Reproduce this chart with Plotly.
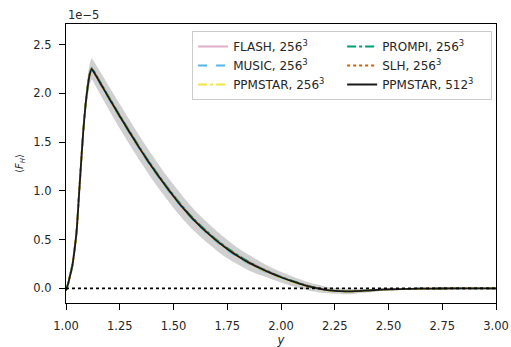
import plotly.graph_objects as go

# y coordinate
y_coord = [1.00, 1.01, 1.02, 1.03, 1.04, 1.05, 1.06, 1.07, 1.08, 1.09, 1.10, 1.11, 1.12,
           1.13, 1.15, 1.175, 1.20, 1.25, 1.30, 1.35, 1.40, 1.45, 1.50, 1.55, 1.60, 1.65,
           1.70, 1.75, 1.80, 1.85, 1.90, 1.95, 2.00, 2.05, 2.10, 2.15, 2.20, 2.25, 2.30,
           2.35, 2.40, 2.45, 2.50, 2.60, 2.70, 2.80, 2.90, 3.00]

# <F_H> in units of 1e-5
ppmstar512 = [-0.02, 0.05, 0.14, 0.24, 0.40, 0.60, 0.94, 1.28, 1.60, 1.86, 2.05, 2.19, 2.25,
              2.215, 2.14, 2.045, 1.95, 1.765, 1.585, 1.41, 1.245, 1.09, 0.945, 0.81, 0.69, 0.585,
              0.49, 0.405, 0.33, 0.265, 0.21, 0.16, 0.115, 0.075, 0.04, 0.01, -0.012, -0.025, -0.03,
              -0.028, -0.022, -0.015, -0.01, -0.004, -0.001, 0.0, 0.0, 0.0]
flash256 = [-0.02, 0.05, 0.15, 0.25, 0.41, 0.61, 0.95, 1.29, 1.61, 1.87, 2.06, 2.20, 2.26,
            2.225, 2.15, 2.055, 1.96, 1.775, 1.595, 1.42, 1.255, 1.10, 0.955, 0.82, 0.70, 0.595,
            0.50, 0.415, 0.34, 0.275, 0.22, 0.17, 0.12, 0.08, 0.045, 0.015, -0.01, -0.022, -0.028,
            -0.027, -0.021, -0.014, -0.009, -0.004, -0.001, 0.0, 0.0, 0.0]
music256 = [-0.02, 0.04, 0.13, 0.23, 0.39, 0.59, 0.93, 1.27, 1.59, 1.85, 2.04, 2.18, 2.24,
            2.205, 2.13, 2.035, 1.94, 1.755, 1.575, 1.40, 1.235, 1.08, 0.935, 0.80, 0.68, 0.575,
            0.48, 0.395, 0.32, 0.255, 0.20, 0.15, 0.11, 0.07, 0.035, 0.007, -0.014, -0.027, -0.031,
            -0.029, -0.023, -0.016, -0.01, -0.005, -0.001, 0.0, 0.0, 0.0]
ppmstar256 = [-0.02, 0.05, 0.14, 0.24, 0.40, 0.60, 0.94, 1.28, 1.60, 1.86, 2.05, 2.19, 2.25,
              2.215, 2.14, 2.045, 1.95, 1.765, 1.585, 1.41, 1.245, 1.09, 0.945, 0.81, 0.69, 0.585,
              0.49, 0.405, 0.33, 0.262, 0.205, 0.155, 0.11, 0.07, 0.036, 0.007, -0.014, -0.027, -0.032,
              -0.03, -0.024, -0.016, -0.011, -0.005, -0.002, 0.0, 0.0, 0.0]
prompi256 = [-0.02, 0.05, 0.15, 0.25, 0.41, 0.61, 0.95, 1.29, 1.61, 1.87, 2.06, 2.20, 2.26,
             2.225, 2.15, 2.055, 1.96, 1.775, 1.595, 1.42, 1.255, 1.10, 0.955, 0.82, 0.70, 0.595,
             0.50, 0.415, 0.34, 0.272, 0.215, 0.165, 0.12, 0.08, 0.044, 0.013, -0.01, -0.024, -0.029,
             -0.027, -0.021, -0.014, -0.009, -0.004, -0.001, 0.0, 0.0, 0.0]
slh256 = [-0.02, 0.05, 0.14, 0.24, 0.40, 0.60, 0.94, 1.28, 1.60, 1.86, 2.05, 2.19, 2.25,
          2.215, 2.14, 2.045, 1.95, 1.765, 1.585, 1.41, 1.245, 1.09, 0.945, 0.81, 0.69, 0.585,
          0.49, 0.405, 0.33, 0.265, 0.21, 0.16, 0.115, 0.075, 0.04, 0.01, -0.012, -0.025, -0.03,
          -0.028, -0.022, -0.015, -0.01, -0.004, -0.001, 0.0, 0.0, 0.0]

# half-width of the shaded spread (1e-5)
spread = [0.02, 0.03, 0.04, 0.05, 0.06, 0.07, 0.08, 0.09, 0.10, 0.10, 0.11, 0.11, 0.11,
          0.11, 0.115, 0.12, 0.12, 0.125, 0.125, 0.125, 0.125, 0.12, 0.12, 0.115, 0.11, 0.105,
          0.10, 0.095, 0.085, 0.08, 0.07, 0.06, 0.055, 0.05, 0.045, 0.04, 0.035, 0.03, 0.03,
          0.025, 0.02, 0.015, 0.012, 0.008, 0.005, 0.004, 0.003, 0.003]

x_ticks = [1.00, 1.25, 1.50, 1.75, 2.00, 2.25, 2.50, 2.75, 3.00]
y_ticks = [0.0, 0.5, 1.0, 1.5, 2.0, 2.5]

upper = [m + s for m, s in zip(ppmstar512, spread)]
lower = [m - s for m, s in zip(ppmstar512, spread)]

FONT = "DejaVu Sans"
TXT = "#262626"
fig = go.Figure()

fig.add_trace(go.Scatter(x=y_coord, y=upper, mode="lines",
                         line=dict(width=0, shape="spline", smoothing=0.5),
                         showlegend=False, hoverinfo="skip"))
fig.add_trace(go.Scatter(x=y_coord, y=lower, mode="lines",
                         line=dict(width=0, shape="spline", smoothing=0.5),
                         fill="tonexty", fillcolor="rgba(150,150,150,0.45)",
                         showlegend=False, hoverinfo="skip"))

series = [
    ("FLASH, 256<sup>3</sup>", flash256, "#CC79A7", "solid", 0.6),
    ("PROMPI, 256<sup>3</sup>", prompi256, "#009E73", "dashdot", 1.0),
    ("MUSIC, 256<sup>3</sup>", music256, "#56B4E9", "dash", 1.0),
    ("SLH, 256<sup>3</sup>", slh256, "#D55E00", "dot", 1.0),
    ("PPMSTAR, 256<sup>3</sup>", ppmstar256, "#F0E442", "dashdot", 1.0),
    ("PPMSTAR, 512<sup>3</sup>", ppmstar512, "#1a1a1a", "solid", 1.0),
]
for name, vals, col, dash, op in series:
    fig.add_trace(go.Scatter(x=y_coord, y=vals, mode="lines", name=name,
                             line=dict(color=col, dash=dash, width=1.8,
                                       shape="spline", smoothing=0.5),
                             opacity=op))

fig.add_hline(y=0, line=dict(color="black", dash="dot", width=1.8))

fig.update_layout(
    width=511, height=347,
    margin=dict(l=66, r=15, t=24, b=44, autoexpand=False),
    paper_bgcolor="white", plot_bgcolor="white",
    font=dict(family=FONT, size=11.5, color=TXT),
    showlegend=True,
    legend=dict(orientation="h", x=0.991, xanchor="right", y=0.975, yanchor="top",
                entrywidth=104, bgcolor="rgba(255,255,255,0.85)",
                bordercolor="#cccccc", borderwidth=1,
                font=dict(family=FONT, size=12, color=TXT), traceorder="normal"),
    xaxis=dict(range=[1.0, 3.0], tickvals=x_ticks,
               ticktext=[f"{v:.2f}" for v in x_ticks], automargin=False,
               showgrid=False, zeroline=False, showline=True, linecolor="black",
               linewidth=1.2, mirror=True, ticks="outside", ticklen=6, tickcolor="black",
               ticklabelstandoff=6,
               title=dict(text="<i>y</i>", standoff=4, font=dict(size=11.5))),
    yaxis=dict(range=[-0.149, 2.71], tickvals=y_ticks,
               ticktext=[f"{v:.1f}" for v in y_ticks], automargin=False,
               showgrid=False, zeroline=False, showline=True, linecolor="black",
               linewidth=1.2, mirror=True, ticks="outside", ticklen=6, tickcolor="black",
               ticklabelstandoff=5,
               title=dict(text="⟨<i>F</i><sub><i>H</i></sub>⟩", standoff=7, font=dict(size=10))),
)
fig.add_annotation(text="1e\u22125", xref="paper", yref="paper", x=0, y=1,
                   xanchor="left", yanchor="bottom", showarrow=False,
                   font=dict(family=FONT, size=11.5, color=TXT), yshift=0)

fig.write_html("out.html")
